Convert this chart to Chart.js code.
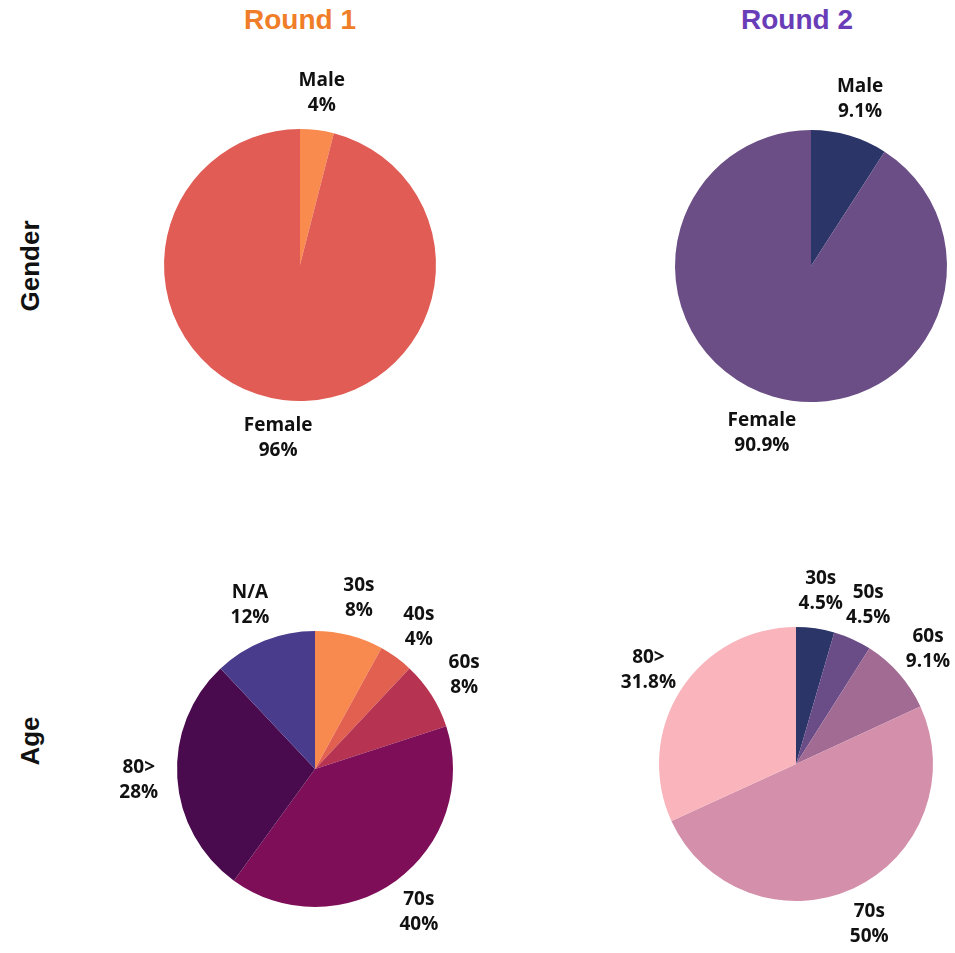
<!DOCTYPE html>
<html>
<head>
<meta charset="utf-8">
<script src="https://cdn.jsdelivr.net/npm/chart.js@4"></script>
<style>
  html, body { margin: 0; padding: 0; background: #fff; overflow: hidden; }
  body { width: 955px; height: 953px; position: relative; }
  canvas { position: absolute; }
  .title { position: absolute; top: 4px; width: 300px; text-align: center;
    font: bold 28px "Liberation Sans", Arial, sans-serif; }
  .row { position: absolute; left: 30px; font: bold 26px "Liberation Sans", Arial, sans-serif;
    color: #111; transform: translate(-50%, -50%) rotate(-90deg); white-space: nowrap; }
</style>
</head>
<body>
<div class="title" style="left:150px;color:#F07D28">Round 1</div>
<div class="title" style="left:647px;color:#6A3DB8">Round 2</div>
<div class="row" style="top:266px">Gender</div>
<div class="row" style="top:741px">Age</div>
<canvas id="g1" width="420" height="420"></canvas>
<canvas id="g2" width="420" height="420"></canvas>
<canvas id="a1" width="420" height="420"></canvas>
<canvas id="a2" width="420" height="420"></canvas>
<script>
// data
const genderLabels = ["Male", "Female"];
const genderRound1 = [4, 96];
const genderRound2 = [9.1, 90.9];
const ageLabelsRound1 = ["30s", "40s", "60s", "70s", "80>", "N/A"];
const ageRound1 = [8, 4, 8, 40, 28, 12];
const ageLabelsRound2 = ["30s", "50s", "60s", "70s", "80>"];
const ageRound2 = [4.5, 4.5, 9.1, 50, 31.8];

// slice labels drawn outside each pie
const outsideLabels = {
  id: "outsideLabels",
  afterDatasetsDraw(chart) {
    const ctx = chart.ctx;
    const meta = chart.getDatasetMeta(0);
    const values = chart.data.datasets[0].data;
    ctx.save();
    ctx.font = "bold 19px 'Open Sans', sans-serif";
    ctx.fillStyle = "#111";
    ctx.textAlign = "center";
    ctx.textBaseline = "middle";
    meta.data.forEach((arc, i) => {
      const mid = (arc.startAngle + arc.endAngle) / 2;
      const r = arc.outerRadius * 1.28;
      const x = arc.x + Math.cos(mid) * r;
      const y = arc.y + Math.sin(mid) * r;
      ctx.fillText(chart.data.labels[i], x, y - 12);
      ctx.fillText(values[i] + "%", x, y + 13);
    });
    ctx.restore();
  },
};

function makePie(id, cx, cy, radius, labels, values, colors) {
  const canvas = document.getElementById(id);
  canvas.style.left = (cx - 210) + "px";
  canvas.style.top = (cy - 210) + "px";
  new Chart(canvas.getContext("2d"), {
    type: "pie",
    data: {
      labels: labels,
      datasets: [{ data: values, backgroundColor: colors, borderWidth: 0 }],
    },
    options: {
      responsive: false,
      animation: false,
      layout: { padding: 210 - radius },
      plugins: { legend: { display: false }, tooltip: { enabled: false } },
    },
    plugins: [outsideLabels],
  });
}

makePie("g1", 300, 265, 136, genderLabels, genderRound1, ["#F98B4F", "#E05C55"]);
makePie("g2", 811, 266, 136, genderLabels, genderRound2, ["#2B3568", "#6B4E85"]);
makePie("a1", 315, 769, 138, ageLabelsRound1, ageRound1,
  ["#F88A50", "#E2604F", "#B63352", "#7F0E58", "#4A0A4E", "#4A3C8C"]);
makePie("a2", 796, 764, 137, ageLabelsRound2, ageRound2,
  ["#2B3568", "#6A4C87", "#A16B94", "#D48FAA", "#F9B4BC"]);
</script>
</body>
</html>
